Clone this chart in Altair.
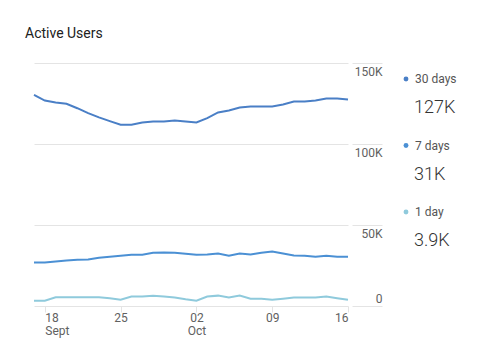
import altair as alt
import pandas as pd

# ---- data (values in thousands of users) ----
dates = pd.date_range("2017-09-17", "2017-10-16", freq="D").strftime("%Y-%m-%d").tolist()
users_30d = [130.3, 126.8, 125.6, 124.8, 122.1, 119.1, 116.4, 114.1, 111.9, 111.9,
             113.3, 113.9, 113.9, 114.5, 113.9, 113.3, 116.0, 119.5, 120.7, 122.5,
             123.2, 123.2, 123.2, 124.4, 126.2, 126.2, 126.8, 128.1, 128.1, 127.5]
users_7d = [26.9, 26.9, 27.5, 28.1, 28.5, 28.7, 29.8, 30.4, 31.0, 31.6,
            31.6, 32.9, 33.1, 32.9, 32.2, 31.6, 31.8, 32.4, 31.0, 32.4,
            31.8, 32.9, 33.7, 32.4, 31.2, 31.0, 30.4, 31.0, 30.4, 30.4]
users_1d = [3.3, 3.3, 5.4, 5.4, 5.4, 5.4, 5.4, 4.8, 3.9, 5.8,
            5.8, 6.4, 5.8, 5.2, 4.1, 3.3, 5.8, 6.4, 5.2, 6.4,
            4.5, 4.5, 3.9, 4.5, 5.2, 5.2, 5.2, 5.8, 4.8, 3.9]
series = ["30 days", "7 days", "1 day"]
latest = ["127K", "31K", "3.9K"]
colors = ["#4a7fc6", "#4b90d4", "#8fcadc"]
y_ticks = [0, 50, 100, 150]
x_ticks = [(2017, 9, 18), (2017, 9, 25), (2017, 10, 2), (2017, 10, 9), (2017, 10, 16)]

rows = []
for name, vals in zip(series, [users_30d, users_7d, users_1d]):
    for d, v in zip(dates, vals):
        rows.append({"date": d, "series": name, "users": v})
df = pd.DataFrame(rows)
leg_df = pd.DataFrame({"series": series, "latest": latest})

color_enc = alt.Color("series:N", scale=alt.Scale(domain=series, range=colors), legend=None)

grid_c = "#e4e4e4"
label_c = "#616161"

lines = alt.Chart(df).mark_line(strokeWidth=2).encode(
    x=alt.X("date:T",
            scale=alt.Scale(type="utc", nice=False),
            axis=alt.Axis(
                values=[alt.DateTime(year=y, month=m, date=d, utc=True) for y, m, d in x_ticks],
                labelExpr="utcdate(datum.value) == 18 ? ['18', 'Sept'] : (utcdate(datum.value) == 2 ? ['02', 'Oct'] : utcFormat(datum.value, '%d'))",
                labelFlush=15, grid=False, domain=False, ticks=True, tickSize=6,
                tickColor=grid_c, labelPadding=0, labelFontSize=12, labelColor=label_c,
                labelLineHeight=13, labelOverlap=False, title=None)),
    y=alt.Y("users:Q",
            scale=alt.Scale(domain=[0, 150], nice=False),
            axis=alt.Axis(
                orient="right", values=y_ticks, grid=True, gridColor=grid_c, gridWidth=1,
                domain=False, ticks=True, tickSize=34, tickColor=grid_c, tickDash=[0, 4, 30],
                labelAlign="right", labelPadding=0,
                labelBaseline={"condition": {"test": "datum.value == 0", "value": "bottom"}, "value": "top"},
                labelOffset={"condition": {"test": "datum.value == 0", "value": -1}, "value": 3},
                labelExpr="datum.value == 0 ? '0' : datum.value + 'K'",
                labelFontSize=12, labelColor=label_c, title=None)),
    color=color_enc,
)

ly = alt.Y("series:N", scale=alt.Scale(type="point", domain=series, range=[16, 149], padding=0), axis=None)

dots = alt.Chart(leg_df).mark_circle(size=24, opacity=1).encode(
    x=alt.value(372), y=ly, color=color_enc)
names = alt.Chart(leg_df).mark_text(align="left", baseline="middle", fontSize=12, color="#555555").encode(
    x=alt.value(381), y=ly, text="series:N")
values = alt.Chart(leg_df).mark_text(align="left", baseline="alphabetic", dy=34, fontSize=18,
                                     fontWeight=300, color="#333333").encode(
    x=alt.value(380), y=ly, text="latest:N")

chart = alt.layer(lines, dots, names, values).resolve_scale(y="independent").properties(
    width=314, height=243,
    autosize=alt.AutoSizeParams(type="none"),
    padding={"left": 26, "top": 55, "right": 134, "bottom": 44},
    background="#ffffff",
    title=alt.Title("Active Users", anchor="start", fontSize=14, fontWeight="normal",
                    color="#212121", dx=-5, offset=11, baseline="alphabetic"),
).configure(font="Roboto").configure_view(strokeOpacity=0)

chart.save("out.html", embed_options={"renderer": "svg", "actions": False})
